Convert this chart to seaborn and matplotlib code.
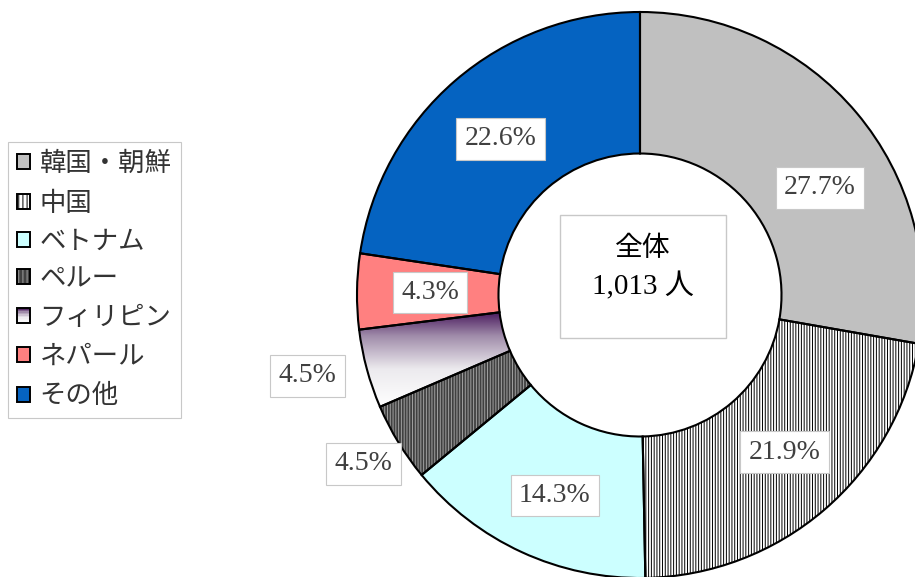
import numpy as np
import matplotlib
matplotlib.use("Agg")
import matplotlib.pyplot as plt
import seaborn as sns
from matplotlib.patches import Rectangle
from matplotlib.legend_handler import HandlerBase
from matplotlib.colors import LinearSegmentedColormap

# ---- data ----
categories = ['韓国・朝鮮', '中国', 'ベトナム', 'ペルー', 'フィリピン', 'ネパール', 'その他']
shares = [27.7, 21.9, 14.3, 4.5, 4.5, 4.3, 22.6]
total_people = 1013
center_title = '全体'

# ---- style ----
face_colors = ['#C0C0C0', '#FFFFFF', '#CCFFFF', '#404040', 'none', '#FF8080', '#0563C1']
hatches = [None, '||||||', None, '||||||', None, None, None]
hatch_colors = ['#C0C0C0', '#000000', '#CCFFFF', '#A0A0A0', '#FFFFFF', '#FF8080', '#0563C1']
gradient_flags = [False, False, False, False, True, False, False]
label_radii = [0.74, 0.755, 0.77, 1.145, 1.21, 0.742, 0.74]
label_angle_offsets = [-9.3, 2.0, 1.7, 0.0, -1.5, 0.0, 1.0]

sns.set_theme(style='white')
plt.rcParams['font.family'] = ['Liberation Serif', 'Noto Sans CJK JP', 'DejaVu Sans']
plt.rcParams['hatch.linewidth'] = 0.7

grad_cmap = LinearSegmentedColormap.from_list(
    'phl', [(0.0, '#FFFFFF'), (0.4, '#ECEAEE'), (0.75, '#A08CAA'), (1.0, '#4A1A5E')])

fig = plt.figure(figsize=(9.15, 5.77), dpi=100)
fig.patch.set_facecolor('white')
ax = fig.add_axes([357 / 915, -1 / 577, 566 / 915, 566 / 577])

fills = ['#FFFFFF' if c == 'none' else c for c in face_colors]
wedges, _ = ax.pie(shares, startangle=90, counterclock=False, radius=1,
                   colors=fills, wedgeprops=dict(width=0.5, linewidth=0))
for w, h, hc in zip(wedges, hatches, hatch_colors):
    if h:
        w.set_edgecolor(hc)
        w.set_linewidth(0)
        w.set_hatch(h)

# gradient wedge(s)
for w, g in zip(wedges, gradient_flags):
    if g:
        ext = w.get_path().get_extents()
        grad = np.linspace(0, 1, 256).reshape(-1, 1)
        im = ax.imshow(grad, cmap=grad_cmap, extent=[ext.x0, ext.x1, ext.y0, ext.y1],
                       origin='lower', aspect='auto', zorder=w.get_zorder() + 0.1)
        im.set_clip_path(w)

# outlines
outl, _ = ax.pie(shares, startangle=90, counterclock=False, radius=1,
                 colors=['none'] * len(shares),
                 wedgeprops=dict(width=0.5, edgecolor='black', linewidth=1.5, fill=False))
for o in outl:
    o.set_zorder(3)

# percentage labels
for w, v, r, off in zip(wedges, shares, label_radii, label_angle_offsets):
    ang = np.deg2rad((w.theta1 + w.theta2) / 2 + off)
    ax.text(r * np.cos(ang), r * np.sin(ang), f'{v:.1f}%', ha='center', va='center',
            fontsize=20, color='#404040', zorder=5,
            bbox=dict(boxstyle='square,pad=0.3', facecolor='white',
                      edgecolor='#C8C8C8', linewidth=0.8))

# center box
ax.add_patch(Rectangle((-0.283, -0.152), 0.587, 0.435, facecolor='white',
                       edgecolor='#C8C8C8', linewidth=1.0, zorder=4))
ax.text(0.01, 0.165, center_title, ha='center', va='center', fontsize=20,
        color='black', zorder=5, family=['Noto Sans CJK JP', 'DejaVu Sans'])
ax.text(0.01, 0.03, f'{total_people:,} 人', ha='center', va='center', fontsize=21,
        color='black', zorder=5)

ax.set_xlim(-1, 1)
ax.set_ylim(-1, 1)
ax.set_aspect('equal')
ax.axis('off')


# ---- legend ----
class Swatch:
    def __init__(self, face, hatch, hatchcolor, gradient):
        self.face, self.hatch, self.hatchcolor, self.gradient = face, hatch, hatchcolor, gradient


class SwatchHandler(HandlerBase):
    def create_artists(self, legend, h, xdescent, ydescent, width, height, fontsize, trans):
        arts = []
        x0, y0 = -xdescent, -ydescent
        if h.gradient:
            n = 10
            for i in range(n):
                arts.append(Rectangle((x0, y0 + height * i / n), width, height / n,
                                      facecolor=grad_cmap((i + 0.5) / n), edgecolor='none',
                                      transform=trans))
        else:
            r = Rectangle((x0, y0), width, height, facecolor=h.face, transform=trans,
                          edgecolor=h.hatchcolor if h.hatch else 'none', linewidth=0)
            if h.hatch:
                r.set_hatch('||||')
            arts.append(r)
        arts.append(Rectangle((x0, y0), width, height, facecolor='none', edgecolor='black',
                              linewidth=1.4, transform=trans))
        return arts


handles = [Swatch(f, h, hc, g) for f, h, hc, g in zip(fills, hatches, hatch_colors, gradient_flags)]
leg = fig.legend(handles, categories, handler_map={Swatch: SwatchHandler()},
                 loc='upper left', bbox_to_anchor=(8 / 915, 1 - 142 / 577),
                 bbox_transform=fig.transFigure, fontsize=19, frameon=True,
                 fancybox=False, framealpha=1, edgecolor='#C8C8C8',
                 handlelength=0.5, handleheight=0.5, handletextpad=0.35,
                 borderpad=0.35, labelspacing=0.6, borderaxespad=0)
for t in leg.get_texts():
    t.set_color('#333333')
leg.get_frame().set_linewidth(0.8)

fig.savefig('out.png', dpi=100, facecolor='white')
